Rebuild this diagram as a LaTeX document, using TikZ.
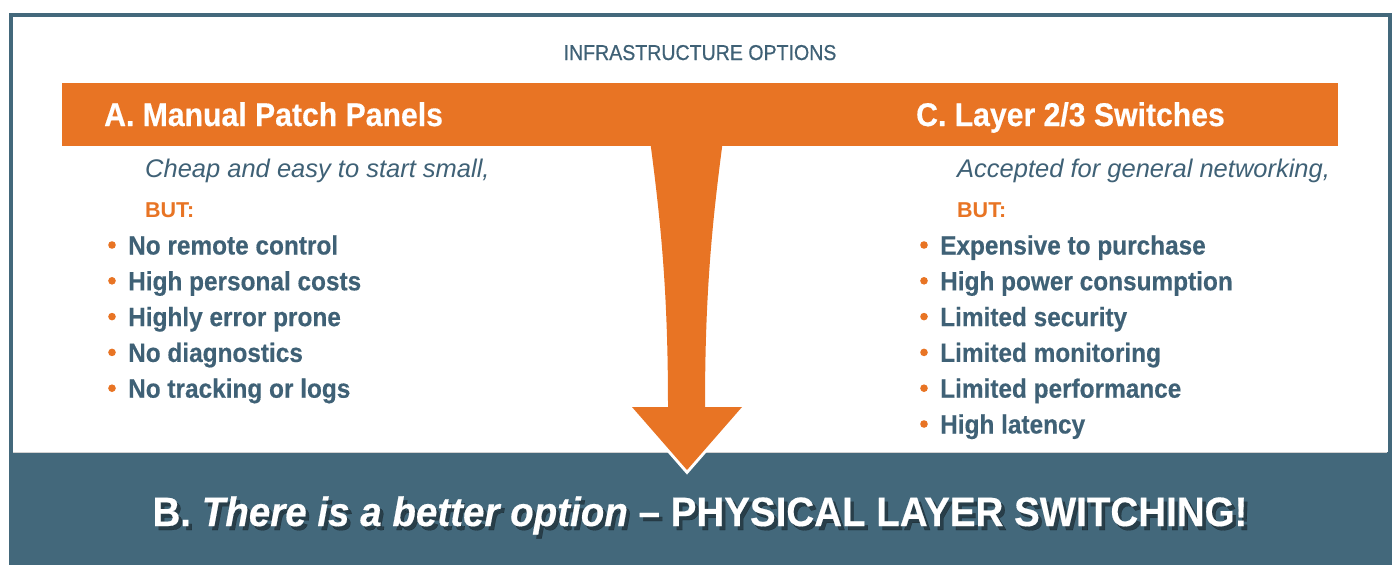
\documentclass[tikz,border=0pt]{standalone}
\usepackage{fontspec}
\setmainfont{Liberation Sans}
\newfontfamily\titlefont[FakeStretch=0.91, FakeBold=0.6]{Liberation Sans}
\newfontfamily\headfont[FakeStretch=0.92, FakeBold=0.4]{Liberation Sans Bold}
\newfontfamily\bandfont[FakeStretch=0.94, FakeBold=0.4]{Liberation Sans Bold}
\newfontfamily\bandslant[FakeStretch=0.94, FakeBold=0.4]{Liberation Sans Bold Italic}
\definecolor{patchorange}{HTML}{E87424}
\definecolor{slate}{HTML}{43687B}
\definecolor{slatetext}{HTML}{3F6176}

\tikzset{
  title/.style={anchor=base, inner sep=0, text=slatetext, font=\titlefont\fontsize{21.5}{24}\selectfont},
  heading/.style={anchor=base west, inner sep=0, text=white, font=\headfont\fontsize{32.8}{36}\selectfont},
  lead/.style={anchor=base west, inner sep=0, text=slatetext, font=\itshape\fontsize{25.5}{30}\selectfont},
  but/.style={anchor=base west, inner sep=0, text=patchorange, font=\bfseries\fontsize{21.5}{26}\selectfont},
  item/.style={anchor=base west, inner sep=0, text=slatetext, font=\headfont\fontsize{26.5}{30}\selectfont},
  banner/.style={anchor=base, inner sep=0, font=\bandfont\fontsize{41}{46}\selectfont}
}

\begin{document}
\begin{tikzpicture}[x=1pt, y=-1pt]
\useasboundingbox (0,0) rectangle (1392,565);
\fill[white] (0,0) rectangle (1392,565);
\draw[slate, line width=4.5] (11.2,15) rectangle (1389.8,560);
\fill[slate] (9,452) rectangle (1392,565);
\draw[gray!35, line width=1] (13,452) -- (1387,452);

\node[title] (title) at (700,60) {INFRASTRUCTURE OPTIONS};

\fill[patchorange, preaction={draw=white, line width=6}]
  (650,140) .. controls (662,230) and (668,300) .. (668,407) -- (632,407) -- (687,470)
  -- (742,407) -- (705,407) .. controls (705,300) and (711,230) .. (723,140) -- cycle;
\fill[patchorange] (62,83) rectangle (1338,146);

\node[heading] (headA) at (104,126) {A. Manual Patch Panels};
\node[heading] (headC) at (916,126) {C. Layer 2/3 Switches};

\node[lead] (leadA) at (145,177) {Cheap and easy to start small,};
\node[but] (butA) at (145,217) {BUT:};
\node[lead] (leadC) at (957,177) {Accepted for general networking,};
\node[but] (butC) at (957,217) {BUT:};

\foreach \txt [count=\i] in {No remote control, High personal costs, Highly error prone, No diagnostics, No tracking or logs}
  {\node[item] (conA\i) at (128,{254.5+35.8*(\i-1)}) {\txt};
   \fill[patchorange] (112,{245+35.8*(\i-1)}) circle (3.8);}

\foreach \txt [count=\i] in {Expensive to purchase, High power consumption, Limited security, Limited monitoring, Limited performance, High latency}
  {\node[item] (conC\i) at (940,{254.5+35.8*(\i-1)}) {\txt};
   \fill[patchorange] (924,{245+35.8*(\i-1)}) circle (3.8);}

\node[banner, text=black, opacity=0.4] (bandshadow) at (703.5,530)
  {B. {\bandslant There is a better option} – PHYSICAL LAYER SWITCHING!};
\node[banner, text=white] (bandtxt) at (700,526)
  {B. {\bandslant There is a better option} – PHYSICAL LAYER SWITCHING!};
\end{tikzpicture}
\end{document}
